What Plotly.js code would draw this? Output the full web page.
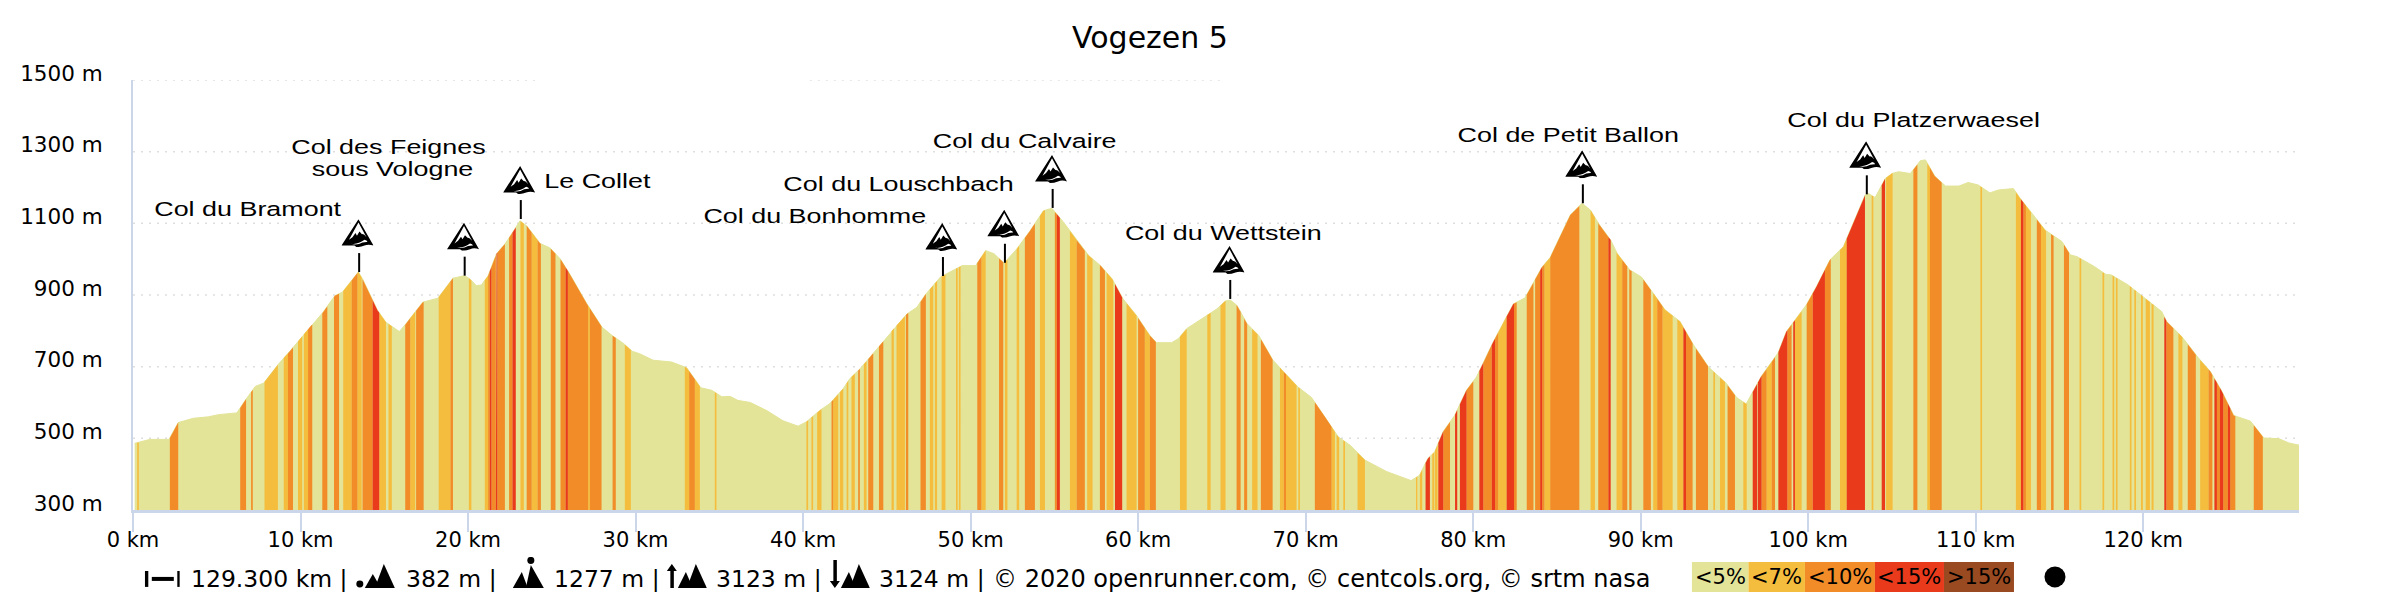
<!DOCTYPE html>
<html>
<head>
<meta charset="utf-8">
<script src="https://cdn.plot.ly/plotly-3.0.1.min.js"></script>
<style>html,body{margin:0;padding:0;background:#fff}#chart{width:2400px;height:600px}</style>
</head>
<body>
<div id="chart"></div>
<script>
// ---------- DATA ----------
const chartTitle = 'Vogezen 5';
const totalKm = 129.3;
const profileKm = [0.1,0.3,1.0,2.15,2.7,3.6,4.5,5.1,6.2,6.7,7.3,7.8,8.7,9.4,10.55,11.35,12.05,12.5,13.45,13.7,14.6,15.1,15.9,16.3,17.3,18.2,19.1,19.8,20.1,20.5,20.8,21.2,21.7,22.2,22.6,23.1,23.5,24.3,24.9,25.5,26.0,27.1,28.0,28.6,29.3,29.8,30.25,31.05,32.15,33.05,33.9,34.55,35.15,35.65,36.1,36.85,37.85,38.8,39.7,40.2,41.0,41.6,42.4,42.8,43.4,44.0,44.7,45.4,46.2,46.8,47.3,48.2,48.8,49.5,50.3,50.9,51.4,52.0,52.75,53.55,54.35,54.85,55.55,56.35,57.05,57.75,58.45,59.1,59.9,60.7,61.1,62.0,62.4,62.9,63.7,64.4,64.7,65.2,65.5,65.9,66.5,67.2,68.05,68.8,69.55,70.35,71.15,71.95,72.65,73.55,74.85,76.3,76.8,77.3,77.7,78.2,78.9,79.6,80.2,81.2,82.4,83.1,84.1,84.6,85.8,86.5,87.0,87.55,88.2,88.6,89.35,90.05,90.75,91.45,92.35,93.15,94.05,95.1,95.75,96.3,97.2,98.2,98.7,99.3,99.9,100.5,101.3,102.1,103.4,103.6,104.0,104.6,105.0,105.4,106.1,106.7,107.0,107.55,108.2,109.0,109.55,110.15,110.85,111.35,112.25,112.65,113.35,114.15,115.15,115.65,116.05,117.1,117.75,118.1,119.1,119.9,121.1,121.4,122.3,123.3,124.0,124.7,125.4,126.4,127.2,128.1,128.7,129.3];
const profileElev = [486,488,497,497,544,556,560,566,571,606,645,654,708,745,810,852,898,908,964,945,857,824,798,820,880,891,947,954,945,926,928,954,1015,1042,1070,1107,1093,1044,1031,1001,964,875,810,787,764,743,736,718,713,697,641,634,616,617,606,600,577,549,534,546,578,597,639,667,694,727,766,806,847,866,901,950,965,982,982,1024,1015,989,1028,1079,1135,1142,1103,1052,1010,982,945,889,843,787,767,767,778,806,831,852,861,883,886,871,820,787,718,680,643,614,560,504,481,439,407,382,397,444,462,518,564,634,671,769,875,892,977,1005,1123,1156,1137,1095,1054,1016,970,950,905,859,826,761,699,654,613,596,673,738,798,835,873,924,998,1035,1179,1183,1172,1225,1239,1244,1239,1275,1277,1232,1204,1204,1214,1207,1185,1193,1197,1170,1128,1081,1049,1012,1007,979,958,956,928,899,854,826,784,724,687,631,564,548,501,499,487,481];

const gradeLabels = ['<5%','<7%','<10%','<15%','>15%'];
const gradeColors = ['#E3E497','#F5BD3D','#F28C28','#EA3A1C','#9A4A20'];

// km ranges of the stripes; everything else is the <5% class
const stripes7 = [[0.25,0.35],[7.85,8.65],[9.0,9.25],[9.85,10.1],[10.2,10.45],[12.55,13.05],[13.4,13.65],[14.7,15.1],[15.25,15.45],[16.55,16.85],[18.25,18.95],[20.05,20.2],[21.0,21.2],[23.13,23.33],[23.8,24.15],[27.17,27.27],[29.36,29.72],[32.94,33.2],[33.54,33.84],[34.73,34.83],[40.2,40.3],[40.5,40.6],[40.84,41.1],[41.8,42.1],[42.2,42.4],[42.6,42.7],[42.89,43.09],[43.63,43.79],[45.28,45.42],[45.58,46.08],[47.57,47.77],[47.87,48.0],[48.27,48.5],[49.13,49.23],[49.3,49.4],[50.65,50.9],[52.05,52.2],[52.75,52.9],[54.14,54.44],[55.93,56.33],[56.96,57.28],[58.12,58.52],[59.31,59.91],[60.4,60.7],[62.5,62.9],[64.13,64.33],[64.92,65.22],[66.81,67.13],[68.47,68.7],[68.83,69.46],[69.56,69.66],[71.55,71.75],[71.85,72.0],[72.25,72.35],[73.1,73.54],[76.59,76.67],[76.82,76.96],[77.56,77.68],[77.72,77.88],[81.5,82.0],[84.26,84.6],[87.01,87.27],[88.56,88.9],[90.75,90.99],[91.31,91.91],[92.19,92.55],[94.34,94.44],[94.74,95.03],[96.13,96.33],[97.52,97.82],[99.21,99.61],[101.9,102.3],[103.79,103.89],[104.65,105.04],[107.11,107.27],[110.28,110.38],[112.4,112.7],[113.0,113.3],[113.9,114.2],[116.2,116.3],[117.57,117.67],[118.17,118.27],[118.37,118.47],[119.2,119.3],[119.47,119.57],[119.87,119.98],[120.15,120.4],[120.5,120.62],[122.1,122.34],[123.4,123.9]];
const stripes10 = [[2.2,2.7],[6.4,6.75],[7.05,7.15],[9.25,9.55],[10.45,10.7],[11.3,11.6],[12.0,12.3],[13.05,13.4],[13.7,14.3],[16.25,16.55],[16.9,17.35],[18.95,19.1],[21.2,21.3],[21.4,21.66],[21.75,22.2],[22.45,22.65],[23.5,23.8],[24.15,24.35],[24.94,25.22],[25.52,25.82],[25.96,27.17],[27.27,27.97],[28.63,28.82],[33.2,33.54],[41.7,41.8],[43.29,43.39],[43.89,44.19],[44.53,44.79],[46.14,46.28],[47.01,47.33],[50.4,50.65],[51.7,51.95],[53.24,53.84],[55.03,55.15],[56.33,56.82],[57.72,58.02],[60.0,60.4],[60.7,61.06],[65.88,66.12],[66.33,66.51],[67.33,68.03],[68.7,68.83],[70.55,71.55],[78.22,78.62],[79.61,80.01],[80.61,81.11],[81.31,81.5],[82.44,82.6],[83.2,83.6],[83.7,84.0],[84.12,84.26],[84.6,86.34],[87.47,87.57],[87.57,88.07],[88.9,89.2],[89.32,89.46],[90.16,90.61],[90.99,91.31],[92.71,93.1],[93.3,94.02],[95.19,95.63],[97.22,97.52],[97.82,98.02],[98.76,99.01],[99.91,100.27],[101.0,101.35],[106.28,106.52],[107.27,107.97],[112.85,113.0],[113.65,113.9],[114.5,114.65],[115.27,115.57],[121.38,121.8],[122.66,123.14],[123.9,124.13],[124.4,124.58],[124.78,125.05],[125.2,125.5],[126.6,127.14]];
const stripes15 = [[14.3,14.7],[21.3,21.4],[21.66,21.75],[22.65,22.85],[25.82,25.96],[55.15,55.33],[58.62,59.05],[77.16,77.42],[77.92,78.22],[78.92,79.05],[79.21,79.61],[80.37,80.61],[81.11,81.31],[82.0,82.44],[84.0,84.12],[88.07,88.21],[92.55,92.71],[96.69,96.96],[97.0,97.22],[98.22,98.76],[99.11,99.21],[100.27,101.0],[102.3,103.39],[104.39,104.59],[112.7,112.85],[121.26,121.38],[124.25,124.4],[124.58,124.78],[125.05,125.2]];
const stripesOver15 = [];

const passNames = [['Col du Bramont'],['Col des Feignes','sous Vologne'],['Le Collet'],['Col du Bonhomme'],['Col du Louschbach'],['Col du Calvaire'],['Col du Wettstein'],['Col de Petit Ballon'],['Col du Platzerwaesel']];
const passKm = [13.5,19.8,23.15,48.35,52.05,54.9,65.5,86.55,103.5];
const passElev = [964,954,1112,953,990,1143,889,1156,1181];

const xTicks = [0,10,20,30,40,50,60,70,80,90,100,110,120];
const xTickText = xTicks.map(v => v + ' km');
const yTicks = [300,500,700,900,1100,1300,1500];
const yTickText = yTicks.map(v => v + ' m');
const footerStats = ['129.300 km |','382 m |','1277 m |','3123 m |','3124 m |','© 2020 openrunner.com, © centcols.org, © srtm nasa'];

// ---------- LAYOUT CONSTANTS (pixels of the 2400x600 page) ----------
const L = 133.2, R = 2299, T = 79.5, B = 510;
const W = R - L, H = B - T;
const pxX = x => (x - L) / W;
const pxY = y => (B - y) / H;
const mPerPx = 1200 / H, kmPerPx = totalKm / W;
const FONT = '"DejaVu Sans", sans-serif';
const LABEL_FONT = '"Liberation Sans", Arial, sans-serif';
const STRETCH = 1.38;

// label centres for each line of every pass name
const passLabelPos = [[[248,209]],[[389,147],[393,169]],[[598,181]],[[815,216]],[[899,184]],[[1025,141]],[[1223.5,233]],[[1568,135]],[[1914,120]]];
const footerTextX = [189,404,552,714,877,991];
const legendEdges = [1692,1748.5,1805,1875,1944,2014];

// ---------- HELPERS ----------
function elevAt(km){
  if (km <= profileKm[0]) return profileElev[0];
  for (let i = 1; i < profileKm.length; i++){
    if (km <= profileKm[i]){
      const t = (km - profileKm[i-1]) / (profileKm[i] - profileKm[i-1]);
      return profileElev[i-1] + t * (profileElev[i] - profileElev[i-1]);
    }
  }
  return profileElev[profileElev.length-1];
}
function stripeTrace(ranges, idx){
  const x = [], y = [];
  ranges.forEach(([a,b]) => {
    x.push(a, a); y.push(300, elevAt(a));
    profileKm.forEach((k,i) => { if (k > a && k < b){ x.push(k); y.push(profileElev[i]); } });
    x.push(b, b, null); y.push(elevAt(b), 300, null);
  });
  return {x, y, type:'scatter', mode:'lines', fill:'toself', fillcolor:gradeColors[idx],
          line:{width:0, color:gradeColors[idx]}, name:gradeLabels[idx], hoverinfo:'skip', showlegend:false};
}
const uri = (w,h,body) => 'data:image/svg+xml;utf8,' + encodeURIComponent(
  `<svg xmlns="http://www.w3.org/2000/svg" width="${w*4}" height="${h*4}" viewBox="0 0 ${w} ${h}">${body}</svg>`);
const mountainIcon = uri(32,27,
  '<path d="M17 0 L32 25.5 Q27 24 23 25.5 Q19 27 15 27 L13 25.5 L0 25.5 Z" fill="#000"/>'+
  '<path d="M17 3.2 L25 17.5 Q22.5 14 20.5 14.5 L18 12 L15.5 16 L14 13.5 L11 17.5 L7.5 20 Z" fill="#fff"/>'+
  '<path d="M9.5 23.7 Q16 25 23 20 Q25.5 20.5 26 22 Q21 21.8 17.5 24 Q13 25 9.5 23.7 Z" fill="#fff"/>');
const distIcon = uri(35,16,'<rect x="0" y="0" width="3.5" height="16"/><rect x="7" y="6" width="22" height="4"/><rect x="32.5" y="0" width="2.5" height="16"/>');
const lowIcon = uri(40,24,'<circle cx="4" cy="20" r="3.5"/><path d="M9 24 L17 10 L25 24 Z"/><path d="M19 24 L28 0 L39 24 Z"/>');
const highIcon = uri(32,31,'<circle cx="18" cy="3.5" r="3.5"/><path d="M0 31 L9 15 L15 31 Z"/><path d="M13 31 L18 8 L31 31 Z"/>');
const upIcon = uri(40,24,'<path d="M5 0 L10 7 L7 7 L7 24 L3.5 24 L3.5 7 L0 7 Z"/><path d="M11 24 L19 8 L26 24 Z"/><path d="M20 24 L29 0 L40 24 Z"/>');
const downIcon = uri(40,28,'<path d="M5 28 L10 21 L7 21 L7 0 L3.5 0 L3.5 21 L0 21 Z"/><path d="M11 28 L19 12 L26 28 Z"/><path d="M20 28 L29 4 L40 28 Z"/>');
const pxImage = (source,x,y,w,h) => ({source, xref:'paper', yref:'paper', x:pxX(x), y:pxY(y), sizex:w/W, sizey:h/H,
  xanchor:'left', yanchor:'top', sizing:'stretch', layer:'above'});

// ---------- TRACES ----------
const gridStyle = {dash:'2px,6px', color:'#dedede', width:1.5};
const traces = [];
yTicks.filter(v => v > 300 && v < 1500).forEach(v => traces.push({x:[0,totalKm], y:[v,v], type:'scatter', mode:'lines', line:gridStyle, hoverinfo:'skip', showlegend:false}));
traces.push({x:[0,24.3,null,40.4,65.1], y:[1500,1500,null,1500,1500], type:'scatter', mode:'lines', line:gridStyle, hoverinfo:'skip', showlegend:false});
traces.push({x:profileKm, y:profileElev, type:'scatter', mode:'lines', fill:'tozeroy', fillcolor:gradeColors[0],
             line:{width:1, color:gradeColors[0]}, name:gradeLabels[0], hoverinfo:'skip', showlegend:false});
[stripes7, stripes10, stripes15, stripesOver15].forEach((r,i) => { if (r.length) traces.push(stripeTrace(r, i+1)); });

const stemX = [], stemY = [];
passKm.forEach((k,i) => { stemX.push(k,k,null); stemY.push(passElev[i], passElev[i] + 19*mPerPx, null); });
traces.push({x:stemX, y:stemY, type:'scatter', mode:'lines', line:{color:'#000', width:2}, hoverinfo:'skip', showlegend:false});

// ---------- ANNOTATIONS, IMAGES, SHAPES ----------
const annotations = [];
passNames.forEach((lines,i) => lines.forEach((t,j) => annotations.push({
  text:t, xref:'paper', yref:'paper', x:pxX(passLabelPos[i][j][0]), y:pxY(passLabelPos[i][j][1]),
  xanchor:'center', yanchor:'middle', showarrow:false, font:{family:LABEL_FONT, size:19.5, color:'#000'}})));
footerStats.forEach((t,i) => annotations.push({
  text:t, xref:'paper', yref:'paper', x:pxX(footerTextX[i]), y:pxY(579), xanchor:'left', yanchor:'middle',
  showarrow:false, font:{family:FONT, size:i === 5 ? 24 : 23.5, color:'#000'}}));
gradeLabels.forEach((t,i) => annotations.push({
  text:t, xref:'paper', yref:'paper', x:pxX((legendEdges[i]+legendEdges[i+1])/2), y:pxY(577), xanchor:'center', yanchor:'middle',
  showarrow:false, font:{family:FONT, size:21, color:'#000'}}));

const shapes = gradeColors.map((c,i) => ({type:'rect', xref:'paper', yref:'paper', x0:pxX(legendEdges[i]), x1:pxX(legendEdges[i+1]),
  y0:pxY(562), y1:pxY(592), fillcolor:c, line:{width:0}, layer:'above'}));
shapes.push({type:'circle', xref:'paper', yref:'paper', x0:pxX(2044.5), x1:pxX(2065.5), y0:pxY(566.5), y1:pxY(587.5), fillcolor:'#000', line:{width:0}});

const images = passKm.map((k,i) => ({source:mountainIcon, xref:'x', yref:'y', x:k - 0.1, y:passElev[i] + 25*mPerPx,
  sizex:32*kmPerPx, sizey:28*mPerPx, xanchor:'center', yanchor:'bottom', sizing:'stretch', layer:'above'}));
images.push(pxImage(distIcon,145,571,35,16), pxImage(lowIcon,356,564,40,24), pxImage(highIcon,513,557,32,31),
            pxImage(upIcon,667,564,40,24), pxImage(downIcon,830,560,40,28));

const layout = {
  width:2400, height:600, autosize:false, paper_bgcolor:'#fff', plot_bgcolor:'#fff', showlegend:false,
  margin:{l:L, r:2400-R, t:T, b:600-B, pad:0},
  title:{text:chartTitle, x:1150/2400, xref:'container', xanchor:'center', y:1-37/600, yref:'container', yanchor:'middle',
         font:{family:FONT, size:30, color:'#000'}},
  xaxis:{range:[0,totalKm], tickmode:'array', tickvals:xTicks, ticktext:xTickText, ticks:'outside', ticklen:19, tickwidth:2, tickcolor:'#ccd6eb', ticklabelstandoff:-10,
         showline:true, linecolor:'#ccd6eb', linewidth:3, showgrid:false, zeroline:false, tickfont:{family:FONT, size:21, color:'#000'}},
  yaxis:{range:[300,1500], tickmode:'array', tickvals:yTicks, ticktext:yTickText, ticks:'', ticklabelstandoff:24, ticklabelshift:-7,
         showline:true, linecolor:'#ccd6eb', linewidth:2, showgrid:false, zeroline:false, tickfont:{family:FONT, size:21.5, color:'#000'}},
  annotations, shapes, images
};

Plotly.newPlot('chart', traces, layout, {staticPlot:true, displayModeBar:false}).then(() => {
  document.querySelectorAll('.annotation-text').forEach(t => {
    if ((t.style.fontFamily || '').includes('Liberation')) {
      t.style.transformBox = 'fill-box';
      t.style.transformOrigin = 'center';
      t.style.transform = 'scaleX(' + STRETCH + ')';
    }
  });
});
</script>
</body>
</html>
